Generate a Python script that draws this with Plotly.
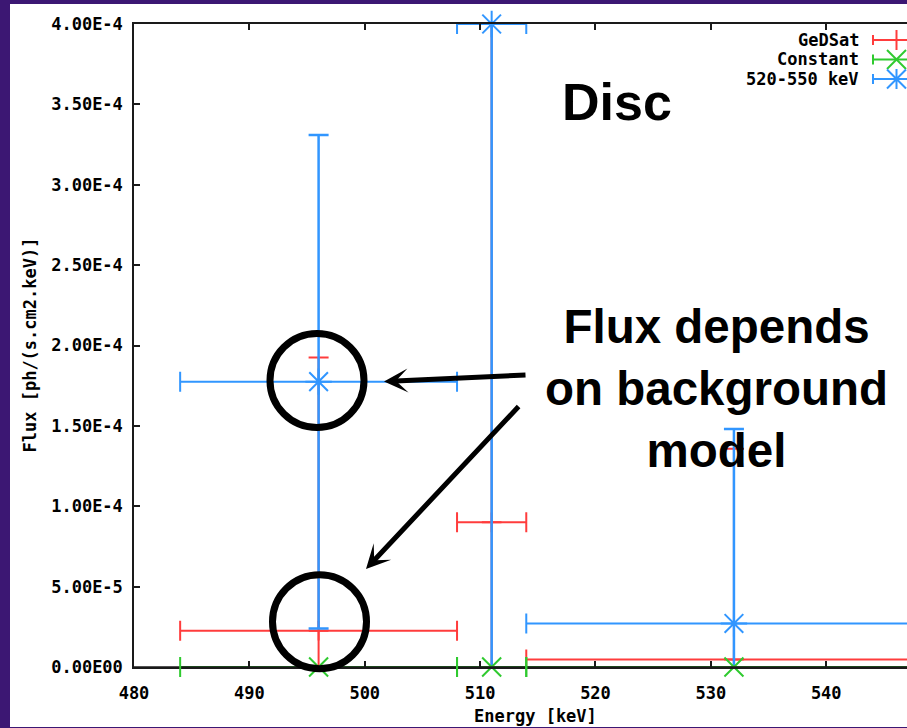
import plotly.graph_objects as go

# ---------------- data ----------------
energy_kev = [496, 511, 532]            # bin centres
energy_halfwidth = [12, 3, 18]          # half bin widths (keV)
gedsat_flux = [2.26e-5, 9.0e-5, 4.7e-6]
gedsat_err = [1.70e-4, 4.6e-4, 1.31e-4]
constant_flux = [0.0, 0.0, 0.0]
band_flux = [1.775e-4, 4.0e-4, 2.71e-5]
band_err = [1.535e-4, 4.6e-4, 1.21e-4]
series_names = ["GeDSat", "Constant", "520-550 keV"]
series_colors = ["#ff3c3c", "#2fca2f", "#3196ff"]
x_ticks = [480, 490, 500, 510, 520, 530, 540]
y_ticks = [0, 5e-5, 1e-4, 1.5e-4, 2e-4, 2.5e-4, 3e-4, 3.5e-4, 4e-4]
y_ticktext = ["0.00E00", "5.00E-5", "1.00E-4", "1.50E-4", "2.00E-4",
              "2.50E-4", "3.00E-4", "3.50E-4", "4.00E-4"]
x_range = [480, 547.0]
y_range = [0, 4e-4]

# ---------------- layout geometry ----------------
W, H = 907, 728
ML, MR, MT, MB = 134, 0, 24, 61
PURPLE = "#3c1773"
MONO = dict(family="DejaVu Sans Mono", size=17, color="black", weight="bold")
SANS = "Liberation Sans, Arial, sans-serif"
EB = 2  # error bar thickness
AXIS_COLOR = "#1a1a1a"


def px(x):
    return (x - ML) / (W - ML - MR)


def py(y):
    return (H - MB - y) / (H - MT - MB)


def yfrac(v):
    return (v - y_range[0]) / (y_range[1] - y_range[0])


fig = go.Figure()

# main (clipped) subplot: error bars of GeDSat and 520-550 keV
fig.add_trace(go.Scatter(
    x=energy_kev, y=gedsat_flux, mode="markers", name=series_names[0],
    marker=dict(symbol="cross-thin-open", size=14, color=series_colors[0],
                line=dict(color=series_colors[0], width=EB)),
    error_x=dict(type="data", array=energy_halfwidth, color=series_colors[0], thickness=EB, width=10),
    error_y=dict(type="data", array=gedsat_err, color=series_colors[0], thickness=EB, width=10),
    showlegend=False))
fig.add_trace(go.Scatter(
    x=energy_kev, y=band_flux, mode="markers", name=series_names[2],
    marker=dict(size=1, color="rgba(0,0,0,0)"),
    error_x=dict(type="data", array=energy_halfwidth, color=series_colors[2], thickness=EB, width=10),
    error_y=dict(type="data", array=band_err, color=series_colors[2], thickness=EB + 0.5, width=10),
    showlegend=False))

# overlay (unclipped) subplot: Constant series and point symbols
fig.add_trace(go.Scatter(
    x=energy_kev, y=constant_flux, mode="markers", name=series_names[1],
    xaxis="x2", yaxis="y2", cliponaxis=False,
    marker=dict(symbol="x-thin-open", size=19, color=series_colors[1],
                line=dict(color=series_colors[1], width=EB)),
    error_x=dict(type="data", array=energy_halfwidth, color=series_colors[1], thickness=EB, width=0),
    showlegend=False))
fig.add_trace(go.Scatter(
    x=energy_kev, y=band_flux, mode="markers", name=series_names[2],
    xaxis="x2", yaxis="y2", cliponaxis=False,
    marker=dict(symbol="asterisk-open", size=22, color=series_colors[2],
                line=dict(color=series_colors[2], width=EB)),
    showlegend=False))
fig.add_trace(go.Scatter(
    x=energy_kev, y=band_flux, mode="markers", name=series_names[2],
    xaxis="x2", yaxis="y2", cliponaxis=False,
    marker=dict(symbol="circle", size=5, color=series_colors[2]),
    showlegend=False, hoverinfo="skip"))

shapes = []
annotations = []

# white slide panel behind the chart
shapes.append(dict(type="rect", xref="paper", yref="paper", layer="below",
                   x0=px(10), x1=px(W + 5), y0=py(727), y1=py(4),
                   fillcolor="white", line=dict(width=0)))

# bottom border redrawn above the data (gnuplot draws the border in front)
shapes.append(dict(type="line", xref="paper", yref="paper", layer="above",
                   x0=0, x1=1, y0=0, y1=0, line=dict(color=AXIS_COLOR, width=1.5)))

# Constant series bin-edge caps (not clipped vertically, 20 px tall, anchored on the data)
for xc, hw, yv in zip(energy_kev, energy_halfwidth, constant_flux):
    for edge in (xc - hw, xc + hw):
        if edge <= x_range[1]:
            shapes.append(dict(type="line", xref="x", yref="paper", layer="above",
                               x0=edge, x1=edge, ysizemode="pixel", yanchor=yfrac(yv),
                               y0=-10, y1=10, line=dict(color=series_colors[1], width=EB)))

# gnuplot-style key (text right-aligned, sample on the right)
legend_rows = [40, 59.5, 79]
for name, color, ry, kind in zip(series_names, series_colors, legend_rows, ["plus", "x", "star"]):
    annotations.append(dict(xref="paper", yref="paper", x=px(861), y=py(ry),
                            xanchor="right", yanchor="middle", showarrow=False,
                            text=name, font=MONO))
    ln = dict(color=color, width=EB)
    shapes.append(dict(type="line", xref="paper", yref="paper", line=ln,
                       x0=px(873), x1=px(935), y0=py(ry), y1=py(ry)))
    shapes.append(dict(type="line", xref="paper", yref="paper", line=ln,
                       x0=px(873), x1=px(873), y0=py(ry - 5), y1=py(ry + 5)))
    mx = 896.5
    if kind in ("plus", "star"):
        shapes.append(dict(type="line", xref="paper", yref="paper", line=ln,
                           x0=px(mx), x1=px(mx), y0=py(ry - 10), y1=py(ry + 10)))
    if kind in ("x", "star"):
        shapes.append(dict(type="line", xref="paper", yref="paper", line=ln,
                           x0=px(mx - 9.5), x1=px(mx + 9.5), y0=py(ry - 9.5), y1=py(ry + 9.5)))
        shapes.append(dict(type="line", xref="paper", yref="paper", line=ln,
                           x0=px(mx - 9.5), x1=px(mx + 9.5), y0=py(ry + 9.5), y1=py(ry - 9.5)))
    if kind == "star":
        shapes.append(dict(type="circle", xref="paper", yref="paper",
                           fillcolor=color, line=dict(width=0),
                           x0=px(mx - 2.5), x1=px(mx + 2.5), y0=py(ry + 2.5), y1=py(ry - 2.5)))

# axis titles
annotations.append(dict(xref="paper", yref="paper", x=px(29), y=py(345.5),
                        xanchor="center", yanchor="middle", showarrow=False, textangle=-90,
                        text="Flux [ph/(s.cm2.keV)]", font=MONO))
annotations.append(dict(xref="paper", yref="paper", x=px(535), y=py(716),
                        xanchor="center", yanchor="middle", showarrow=False,
                        text="Energy [keV]", font=MONO))

# slide overlay text
annotations.append(dict(xref="paper", yref="paper", x=px(616.5), y=py(101.5),
                        xanchor="center", yanchor="middle", showarrow=False,
                        text="<b>Disc</b>", font=dict(family=SANS, size=52, color="black")))
annotations.append(dict(xref="paper", yref="paper", x=px(716), y=py(388.5),
                        xanchor="center", yanchor="middle", showarrow=False, align="center",
                        text="<b>Flux depends<br>on background<br>model</b>",
                        font=dict(family=SANS, size=47.5, color="black")))

# circles
for cx, cy in [(317.0, 380.5), (319.5, 621.7)]:
    r = 47
    shapes.append(dict(type="circle", xref="paper", yref="paper", layer="above",
                       x0=px(cx - r), x1=px(cx + r), y0=py(cy + r), y1=py(cy - r),
                       line=dict(color="black", width=7)))

# arrows
for (tx, ty), (sx, sy) in [((384, 381.5), (527, 375)), ((366, 569), (520, 405))]:
    annotations.append(dict(xref="paper", yref="paper", x=px(tx), y=py(ty),
                            ax=sx - tx, ay=sy - ty, text="", showarrow=True,
                            arrowhead=3, arrowwidth=5, arrowsize=0.8, arrowcolor="black",
                            standoff=0, startstandoff=0))

axis_common = dict(showgrid=False, zeroline=False, showline=True, linecolor=AXIS_COLOR,
                   linewidth=1.5, ticks="inside", ticklen=6, tickwidth=1.5,
                   tickcolor=AXIS_COLOR, tickfont=MONO)

fig.update_layout(
    width=W, height=H,
    margin=dict(l=ML, r=MR, t=MT, b=MB, pad=0),
    paper_bgcolor=PURPLE, plot_bgcolor="white",
    showlegend=False,
    xaxis=dict(range=x_range, tickvals=x_ticks, mirror="allticks",
               ticklabelstandoff=10, **axis_common),
    yaxis=dict(range=y_range, tickvals=y_ticks, ticktext=y_ticktext,
               ticklabelstandoff=6, **axis_common),
    xaxis2=dict(overlaying="x", matches="x", visible=False, range=x_range),
    yaxis2=dict(overlaying="y", matches="y", visible=False, range=y_range),
    shapes=shapes, annotations=annotations,
)

fig.write_html("out.html", config={"displayModeBar": False},
               post_script="document.body.style.margin='0px';document.body.style.padding='0px';document.body.style.overflow='hidden';")
